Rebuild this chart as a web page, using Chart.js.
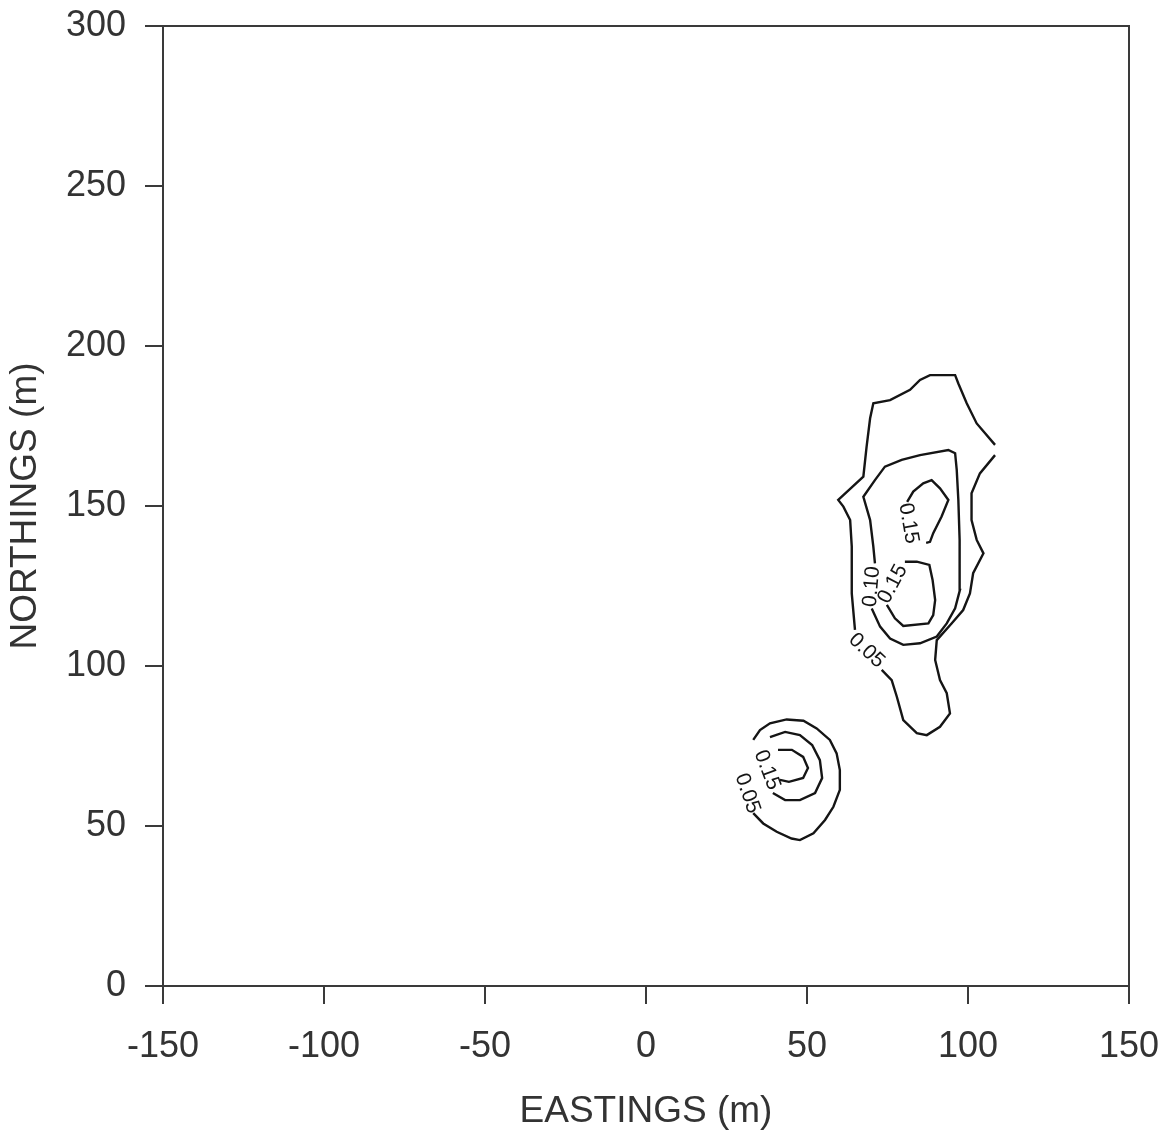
<!DOCTYPE html>
<html>
<head>
<meta charset="utf-8">
<title>Contour map</title>
<script src="https://cdn.jsdelivr.net/npm/chart.js@4/dist/chart.umd.min.js"></script>
<style>
  html, body { margin: 0; padding: 0; background: #fff; }
  #wrap { width: 1164px; height: 1139px; }
</style>
</head>
<body>
<div id="wrap"><canvas id="map" width="1164" height="1139"></canvas></div>
<script>
// axis ticks (m)
var xTicks = [-150, -100, -50, 0, 50, 100, 150]
var yTicks = [0, 50, 100, 150, 200, 250, 300]

// north body, 0.05 contour - two pieces (open at grid edge, broken for its label)
var north05aX = [108.4, 102.7, 99.6, 97.0, 96.0, 88.2, 85.1, 82.0, 75.8, 70.6, 69.6, 68.5, 67.5, 59.7, 61.3, 63.4, 63.9, 63.9, 64.9]
var north05aY = [169.1, 175.8, 182.1, 188.3, 190.9, 190.9, 189.4, 186.3, 183.1, 182.1, 177.4, 168.5, 159.2, 151.9, 149.8, 145.6, 137.3, 122.7, 111.3]
var north05bX = [73.2, 76.3, 77.9, 79.9, 84.1, 87.2, 91.3, 94.4, 93.4, 91.3, 89.8, 90.3, 94.9, 98.5, 100.6, 101.6, 104.8, 102.7, 101.1, 101.1, 103.7, 108.4]
var north05bY = [98.8, 95.6, 90.4, 83.1, 79.0, 78.4, 81.0, 85.2, 91.5, 95.6, 101.9, 108.1, 113.3, 117.5, 122.7, 129.0, 135.2, 139.4, 145.6, 154.0, 160.2, 165.9]

// north body, 0.10 contour
var north10X = [70.1, 72.7, 75.8, 79.9, 85.1, 90.3, 93.4, 96.0, 97.5, 97.5, 97.3, 97.0, 96.5, 96.0, 93.9, 85.1, 79.4, 74.2, 71.1, 67.5, 69.6, 70.6, 71.1]
var north10Y = [118.0, 112.3, 108.6, 106.6, 107.1, 109.2, 113.3, 118.0, 123.8, 127.9, 139.4, 151.9, 161.3, 166.5, 167.5, 165.9, 164.4, 162.3, 158.1, 152.9, 145.6, 137.3, 132.1]

// north body, 0.15 contours (upper and lower cores)
var north15aX = [81.1, 83.0, 86.1, 88.7, 91.3, 93.9, 91.8, 89.2, 88.2, 87.0]
var north15aY = [151.3, 154.5, 157.1, 158.1, 155.5, 151.9, 146.7, 141.5, 138.8, 138.5]
var north15bX = [80.4, 84.1, 88.0, 89.0, 89.8, 89.2, 87.7, 79.9, 77.3, 74.8]
var north15bY = [132.6, 132.6, 131.6, 126.9, 120.6, 115.9, 113.3, 112.5, 114.9, 119.1]

// south body contours
var south05X = [33.3, 35.4, 38.5, 43.7, 48.9, 53.0, 57.1, 59.2, 60.2, 60.2, 58.2, 55.6, 52.0, 47.8, 45.2, 40.6, 36.4, 33.3]
var south05Y = [76.9, 80.0, 82.1, 83.3, 82.9, 80.5, 76.9, 72.7, 67.5, 61.3, 56.0, 51.9, 47.7, 45.6, 46.1, 48.2, 50.8, 54.0]
var south10X = [38.5, 43.2, 47.8, 51.6, 54.0, 54.7, 52.5, 47.8, 43.2, 39.4]
var south10Y = [77.8, 79.4, 78.4, 75.3, 70.6, 65.0, 60.3, 58.1, 58.1, 60.3]
var south15X = [41.0, 45.3, 48.8, 50.3, 48.8, 44.4, 41.6]
var south15Y = [73.8, 73.8, 71.6, 68.1, 65.0, 63.8, 64.4]

// contour labels: text and position in map units
var labelText = ['0.15', '0.10', '0.15', '0.05', '0.15', '0.05']
var labelX = [81.5, 70.1, 76.6, 68.5, 37.6, 31.5]
var labelY = [144.6, 124.8, 125.6, 104.8, 67.5, 60.2]
// label rotation (degrees), styling only
var labelAngle = [80, -85, -62, 43, 69, 71]

function pts(xs, ys) {
	var out = []
	for (var i = 0; i < xs.length; i++) out.push({x: xs[i], y: ys[i]})
	return out
}

function contour(xs, ys) {
	return {
		data: pts(xs, ys),
		showLine: true,
		borderColor: '#151515',
		borderWidth: 2.4,
		pointRadius: 0,
		tension: 0,
		fill: false
	}
}

var AXIS = '#3a3a3a'
var TEXT = '#333'
var tickFont = {family: 'Arimo, "Liberation Sans", Arial, sans-serif', size: 36}
var titleFont = {family: 'Arimo, "Liberation Sans", Arial, sans-serif', size: 37}

// the frame is placed by hand, so drop the label overhang chart.js adds
function fixBox(size, prop) {
	return function(s) {
		s[prop] = size
		s.paddingTop = 0
		s.paddingBottom = 0
		s.paddingLeft = 0
		s.paddingRight = 0
	}
}

// contour labels + top/right frame
var extras = {
	id: 'extras',
	afterDatasetsDraw: function(chart) {
		var ctx = chart.ctx, a = chart.chartArea
		var sx = chart.scales.x, sy = chart.scales.y
		ctx.save()
		ctx.strokeStyle = AXIS
		ctx.lineWidth = 2
		ctx.beginPath()
		ctx.moveTo(a.left, a.top)
		ctx.lineTo(a.right, a.top)
		ctx.lineTo(a.right, a.bottom)
		ctx.stroke()

		ctx.fillStyle = '#151515'
		ctx.font = '21px "Liberation Sans", Arial, sans-serif'
		ctx.textAlign = 'center'
		ctx.textBaseline = 'middle'
		for (var i = 0; i < labelText.length; i++) {
			ctx.save()
			ctx.translate(sx.getPixelForValue(labelX[i]), sy.getPixelForValue(labelY[i]))
			ctx.rotate(labelAngle[i] * Math.PI / 180)
			ctx.fillText(labelText[i], 0, 0)
			ctx.restore()
		}
		ctx.restore()
	}
}

new Chart(document.getElementById('map'), {
	type: 'scatter',
	data: {
		datasets: [
			contour(north05aX, north05aY),
			contour(north05bX, north05bY),
			contour(north10X, north10Y),
			contour(north15aX, north15aY),
			contour(north15bX, north15bY),
			contour(south05X, south05Y),
			contour(south10X, south10Y),
			contour(south15X, south15Y)
		]
	},
	options: {
		responsive: false,
		animation: false,
		devicePixelRatio: 1,
		layout: {padding: {top: 26, right: 35, left: 0, bottom: 0}},
		plugins: {legend: {display: false}, tooltip: {enabled: false}},
		scales: {
			x: {
				type: 'linear', min: -150, max: 150,
				afterBuildTicks: function(s) { s.ticks = xTicks.map(function(v) { return {value: v} }) },
				afterFit: fixBox(153, 'height'),
				grid: {drawOnChartArea: false, drawTicks: true, tickLength: 18, color: AXIS, lineWidth: 2},
				border: {display: true, color: AXIS, width: 2},
				ticks: {font: tickFont, color: TEXT, padding: 21, maxRotation: 0, autoSkip: false},
				title: {display: true, text: 'EASTINGS (m)', font: titleFont, color: TEXT, padding: {top: 0, bottom: 5}}
			},
			y: {
				type: 'linear', min: 0, max: 300,
				afterBuildTicks: function(s) { s.ticks = yTicks.map(function(v) { return {value: v} }) },
				afterFit: fixBox(163, 'width'),
				grid: {drawOnChartArea: false, drawTicks: true, tickLength: 18, color: AXIS, lineWidth: 2},
				border: {display: true, color: AXIS, width: 2},
				ticks: {font: tickFont, color: TEXT, padding: 19, autoSkip: false},
				title: {display: true, text: 'NORTHINGS (m)', font: titleFont, color: TEXT, padding: {top: 4, bottom: 0}}
			}
		}
	},
	plugins: [extras]
})
</script>
</body>
</html>
